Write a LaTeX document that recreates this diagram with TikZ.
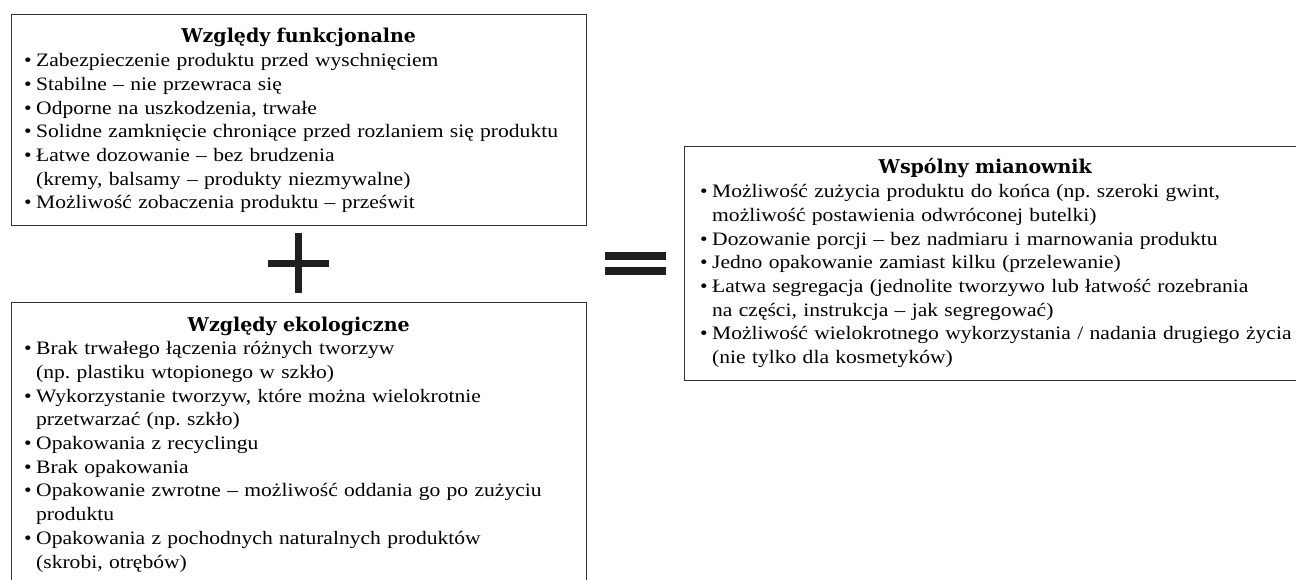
\documentclass[tikz,border=0pt]{standalone}
\usepackage{fontspec}
\setmainfont[FakeStretch=1.135]{Liberation Serif}
\newfontfamily\naglfont{DejaVu Serif}
\usepackage{tikz}
\tikzset{ramka/.style={draw=black!80, line width=1.4pt, anchor=north west, inner sep=0pt},
  tresc/.style={anchor=base west, inner sep=0pt, align=left, text width=640, font=\fontsize{19}{23.7}\selectfont\frenchspacing},
  belka/.style={fill=black!88, inner sep=0pt}}
\newcommand\tytul[2]{\makebox[#1pt]{\naglfont\bfseries #2}}
\newcommand\pkt{\makebox[12pt][l]{\textbullet}}
\newcommand\dal{\hspace*{12pt}}

\begin{document}
\begin{tikzpicture}[x=1pt,y=-1pt]
		\useasboundingbox (0,0) rectangle (1296,580);
		% ramki
		\node[ramka, minimum width=575, minimum height=211] (funk) at (11,14) {};
		\node[ramka, minimum width=575, minimum height=300] (eko) at (11,302) {};
		\node[ramka, minimum width=620, minimum height=234] (wsp) at (684,146) {};
		% teksty
		\node[tresc] (tfunk) at (24,43) {\tytul{549}{Względy funkcjonalne}\\
			\pkt Zabezpieczenie produktu przed wyschnięciem\\
			\pkt Stabilne -- nie przewraca się\\
			\pkt Odporne na uszkodzenia, trwałe\\
			\pkt Solidne zamknięcie chroniące przed rozlaniem się produktu\\
			\pkt Łatwe dozowanie -- bez brudzenia\\
			\dal (kremy, balsamy -- produkty niezmywalne)\\
			\pkt Możliwość zobaczenia produktu -- prześwit};
		\node[tresc] (teko) at (24,331) {\tytul{549}{Względy ekologiczne}\\
			\pkt Brak trwałego łączenia różnych tworzyw\\
			\dal (np. plastiku wtopionego w szkło)\\
			\pkt Wykorzystanie tworzyw, które można wielokrotnie\\
			\dal przetwarzać (np. szkło)\\
			\pkt Opakowania z recyclingu\\
			\pkt Brak opakowania\\
			\pkt Opakowanie zwrotne -- możliwość oddania go po zużyciu\\
			\dal produktu\\
			\pkt Opakowania z pochodnych naturalnych produktów\\
			\dal (skrobi, otrębów)};
		\node[tresc] (twsp) at (700,174) {\tytul{570}{Wspólny mianownik}\\
			\pkt Możliwość zużycia produktu do końca (np. szeroki gwint,\\
			\dal możliwość postawienia odwróconej butelki)\\
			\pkt Dozowanie porcji -- bez nadmiaru i marnowania produktu\\
			\pkt Jedno opakowanie zamiast kilku (przelewanie)\\
			\pkt Łatwa segregacja (jednolite tworzywo lub łatwość rozebrania\\
			\dal na części, instrukcja -- jak segregować)\\
			\pkt Możliwość wielokrotnego wykorzystania / nadania drugiego życia\\
			\dal (nie tylko dla kosmetyków)};
		% plus i rowna sie
		\node[belka, minimum width=61, minimum height=7] (plusH) at (298.5,263.5) {};
		\node[belka, minimum width=7, minimum height=60] (plusV) at (298.5,263) {};
		\node[belka, minimum width=61, minimum height=8] (rowna1) at (635.5,256) {};
		\node[belka, minimum width=61, minimum height=8] (rowna2) at (635.5,271) {};
\end{tikzpicture}
\end{document}
